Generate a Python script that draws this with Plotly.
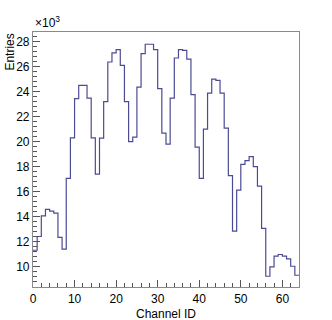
import plotly.graph_objects as go

# entries per channel, in units of 10^3
channel_id = list(range(64))
entries_k = [
    11.3, 12.4, 14.06, 14.57, 14.44, 14.28, 12.33, 11.39,
    17.06, 20.3, 23.43, 24.5, 24.5, 23.48, 20.3, 17.4,
    20.27, 23.2, 26.37, 27.1, 27.36, 26.1, 23.2, 20.0,
    20.35, 24.36, 27.04, 27.79, 27.79, 27.36, 24.23, 20.67,
    19.79, 23.48, 26.69, 27.36, 27.3, 26.6, 23.75, 19.55,
    17.06, 21.0, 23.88, 25.0, 24.9, 23.88, 21.07, 17.27,
    12.83, 16.12, 18.18, 18.47, 18.8, 18.0, 16.44, 13.05,
    9.22, 9.97, 10.83, 10.96, 10.83, 10.61, 10.02, 9.3,
]
y_ticks = [10, 12, 14, 16, 18, 20, 22, 24, 26, 28]
x_ticks = [0, 10, 20, 30, 40, 50, 60]

# bin edges for the step line
edges = channel_id + [channel_id[-1] + 1]
steps = entries_k + [entries_k[-1]]

fig = go.Figure()
fig.add_trace(go.Scatter(x=edges, y=steps, mode='lines', line_shape='hv',
                         line=dict(color='#4b4b94', width=1.2), showlegend=False))

font = dict(family='Liberation Sans, Arial, sans-serif', size=12, color='black')
axis_common = dict(showgrid=False, zeroline=False, showline=True, mirror=True,
                   linecolor='#8a8a8a', linewidth=1.2, ticks='inside',
                   tickcolor='#555555', tickfont=font, automargin=False)

fig.update_xaxes(range=[0, 64], tickvals=x_ticks, ticklen=7,
                 minor=dict(dtick=2, ticks='inside', ticklen=4, tickcolor='#555555'),
                 **axis_common)
fig.update_yaxes(range=[8.36, 28.77], tickvals=y_ticks, ticklen=7,
                 minor=dict(dtick=0.4, ticks='inside', ticklen=4, tickcolor='#555555'),
                 **axis_common)

fig.add_annotation(text='×10<sup>3</sup>', xref='paper', yref='paper', x=0, y=1,
                   xanchor='left', yanchor='bottom', showarrow=False,
                   font=dict(family='Liberation Sans, Arial, sans-serif', size=12, color='black'))
fig.add_annotation(text='Entries', xref='paper', yref='paper', x=-0.09, y=1,
                   xanchor='center', yanchor='top', textangle=-90, showarrow=False,
                   font=font)
fig.add_annotation(text='Channel ID', xref='paper', yref='paper', x=0.5, y=-0.07,
                   xanchor='center', yanchor='top', showarrow=False, font=font)

fig.update_layout(width=332, height=320, margin=dict(l=33, r=33, t=32, b=33),
                  paper_bgcolor='white', plot_bgcolor='white')

# drop the default page margin so the figure sits at the window corner
fig.write_html("out.html", config={'displayModeBar': False},
               post_script="document.body.style.margin='0';")
